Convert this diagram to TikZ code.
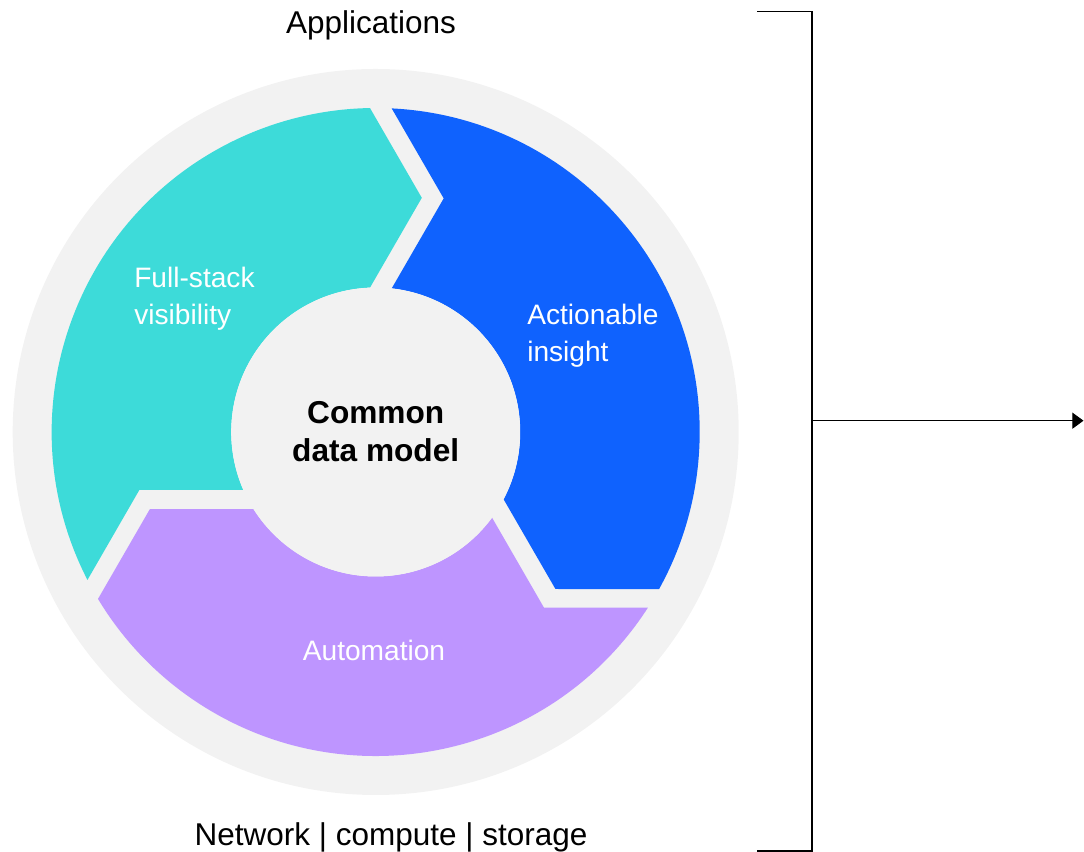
\documentclass[tikz,border=0pt]{standalone}
\usepackage{fontspec}
\setmainfont{Liberation Sans}
\usetikzlibrary{arrows.meta}
\definecolor{ringgray}{HTML}{F2F2F2}
\definecolor{segteal}{HTML}{3DDBD9}
\definecolor{segblue}{HTML}{0F62FE}
\definecolor{segpurple}{HTML}{BE95FF}
% One chevron segment of the cycle, centred on the origin:
% outer arc, arrow point, inner arc, notch.
\newcommand\chevronseg{(207.17:324) arc[start angle=207.17, end angle=91.01, radius=324]
  -- (78.86:238.66) -- (92.26:144.5)
  arc[start angle=92.26, end angle=203.64, radius=144.5]
  -- (193.77:243.3) -- cycle}
\begin{document}
\begin{tikzpicture}[x=0.025cm, y=0.025cm,
  seglabel/.style={text=white, font=\fontsize{20}{26.5}\selectfont, inner sep=0pt, align=left},
  outerlabel/.style={text=black, font=\fontsize{22.4}{27}\selectfont, inner sep=0pt},
  corestyle/.style={circle, fill=ringgray, minimum size=289*0.025cm, inner sep=0pt,
    align=center, font=\bfseries\fontsize{22.5}{27}\selectfont},
  bracket/.style={draw=black, line width=0.8pt},
  flow/.style={draw=black, line width=0.7pt, -{Triangle[length=8pt, width=11.5pt]}}]
\useasboundingbox (0,0) rectangle (1084,852);
\coordinate (C) at (375.7,420);

% background ring
\fill[ringgray] (C) circle[radius=363];

% the three chevron segments
\begin{scope}[shift={(C)}]
  \fill[segteal] \chevronseg;
  \begin{scope}[rotate=-120]
    \fill[segblue] \chevronseg;
  \end{scope}
  \begin{scope}[rotate=120]
    \fill[segpurple] \chevronseg;
  \end{scope}
\end{scope}

% hub
\node[corestyle] (core) at (C) {Common\\data model};

% segment labels (base anchor sits on the last line)
\node[seglabel, anchor=base west] (visibility) at (134,527) {Full-stack\\visibility};
\node[seglabel, anchor=base west] (insight) at (527,490) {Actionable\\insight};
\node[seglabel, anchor=base] (automation) at (374,191) {Automation};

% layer labels
\node[outerlabel, anchor=base] (apps) at (371,818) {Applications};
\node[outerlabel, anchor=base] (infra) at (391,6) {Network | compute | storage};

% bracket and output arrow
\coordinate (btl) at (757.3,840.3);
\coordinate (btr) at (812,840.3);
\coordinate (bbr) at (812,1);
\coordinate (bbl) at (757.3,1);
\coordinate (bmid) at (812,431.3);
\coordinate (outend) at (1083.5,431.3);
\draw[bracket] (btl) -- (btr) -- (bbr) -- (bbl);
\draw[flow] (bmid) -- (outend);
\end{tikzpicture}
\end{document}
